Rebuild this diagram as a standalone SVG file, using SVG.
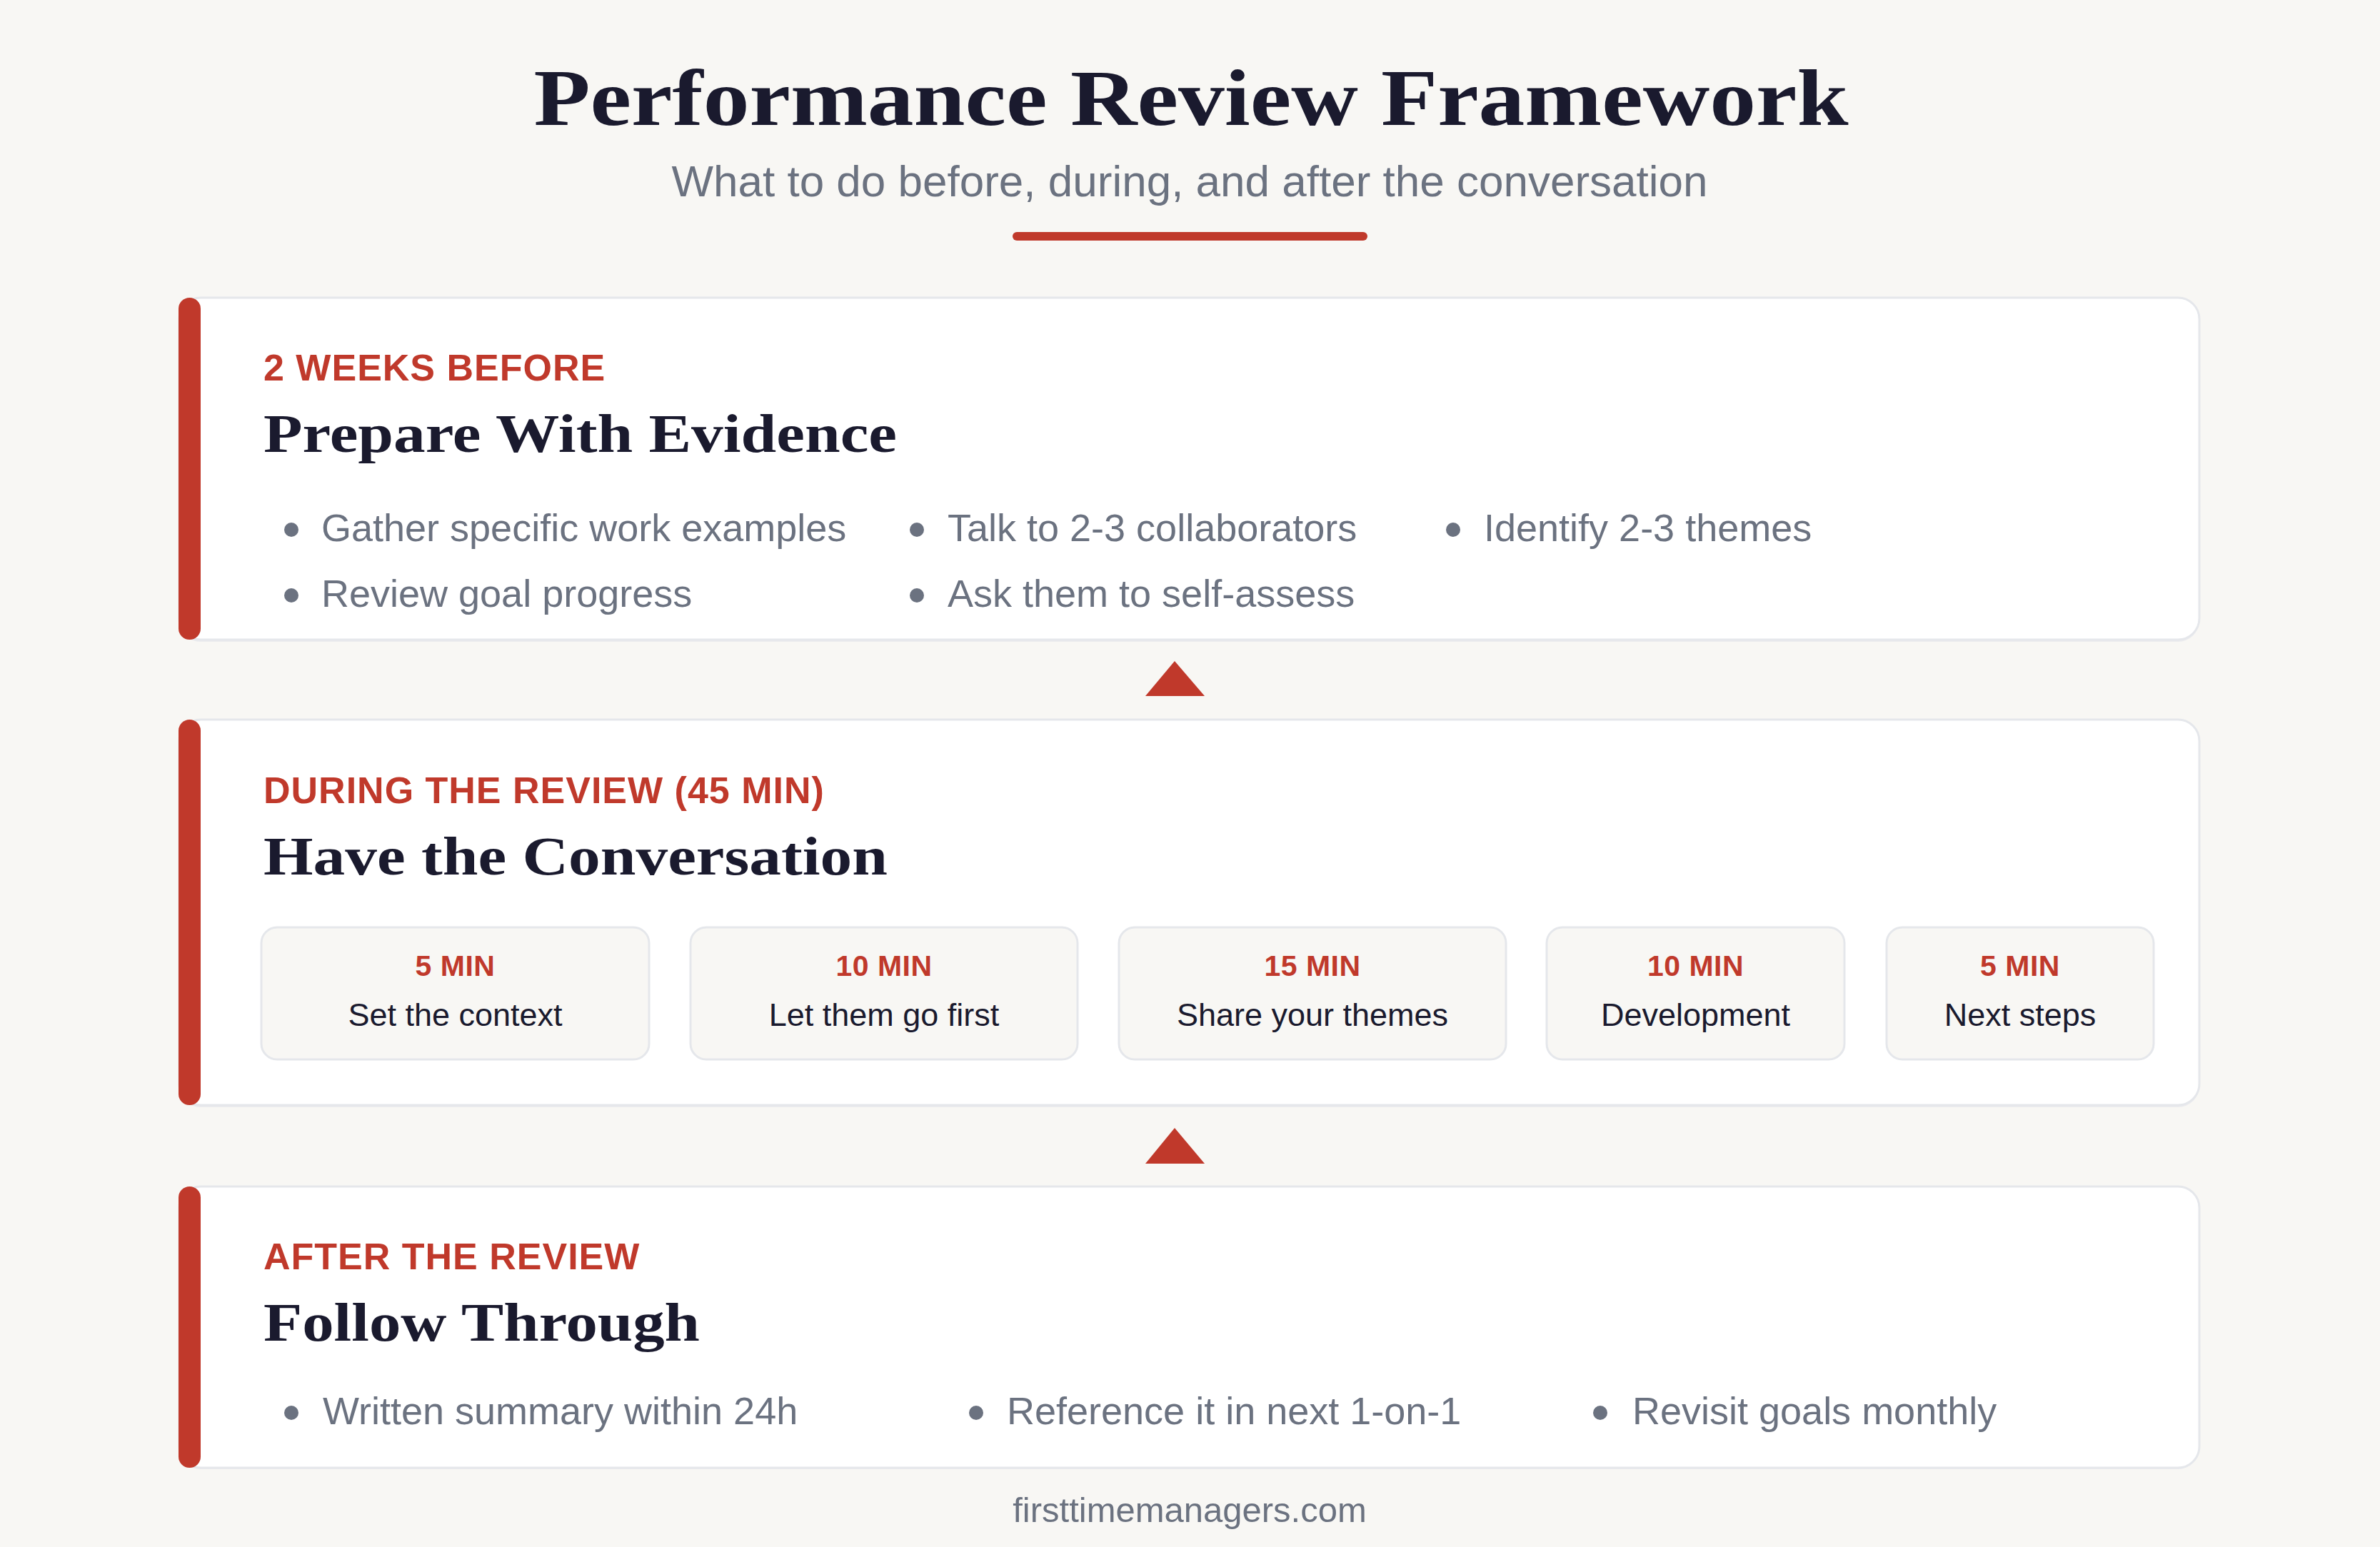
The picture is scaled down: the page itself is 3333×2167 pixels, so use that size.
<svg xmlns="http://www.w3.org/2000/svg" width="3333" height="2167" viewBox="0 0 3333 2167">
<defs>
<style>
.bg{fill:#f8f7f4}
.shadow{fill:#ebebee}
.card{fill:#ffffff;stroke:#e5e7eb;stroke-width:3}
.bar{fill:#c0392b}
.h1{font-family:"Liberation Serif","Times New Roman",serif;font-weight:700;font-size:113px;fill:#1a1a2e;text-anchor:middle}
.sub{font-family:"Liberation Sans",Arial,sans-serif;font-size:62px;fill:#6b7280;text-anchor:middle}
.label{font-family:"Liberation Sans",Arial,sans-serif;font-weight:700;font-size:52px;fill:#c0392b;letter-spacing:1px}
.title{font-family:"Liberation Serif","Times New Roman",serif;font-weight:700;font-size:76px;fill:#1a1a2e}
.item{font-family:"Liberation Sans",Arial,sans-serif;font-size:54px;fill:#6b7280}
.dot{fill:#6b7280}
.step{fill:#f8f7f4;stroke:#e5e7eb;stroke-width:3}
.min{font-family:"Liberation Sans",Arial,sans-serif;font-weight:700;font-size:41px;fill:#c0392b;text-anchor:middle;letter-spacing:0.5px}
.desc{font-family:"Liberation Sans",Arial,sans-serif;font-size:45px;fill:#1a1a2e;text-anchor:middle}
.arrow{fill:#c0392b}
.foot{font-family:"Liberation Sans",Arial,sans-serif;font-size:49px;fill:#6b7280;text-anchor:middle}
</style>
</defs>
<rect class="bg" x="0" y="0" width="3333" height="2167"/>

<g id="header">
<text class="h1" x="1668" y="175" textLength="1841" lengthAdjust="spacingAndGlyphs">Performance Review Framework</text>
<text class="sub" x="1666" y="275">What to do before, during, and after the conversation</text>
<rect x="1418" y="325" width="497" height="12" rx="6" fill="#c0392b"/>
</g>

<g id="card-before">
<rect class="shadow" x="251" y="420" width="2829" height="479" rx="30"/>
<rect class="card" x="251" y="417" width="2829" height="479" rx="30"/>
<rect class="bar" x="250" y="417" width="31" height="479" rx="15.5"/>
<text class="label" x="369" y="533">2 WEEKS BEFORE</text>
<text class="title" x="369" y="633" textLength="887" lengthAdjust="spacingAndGlyphs">Prepare With Evidence</text>
<circle class="dot" cx="408" cy="742" r="10"/>
<text class="item" x="450" y="758">Gather specific work examples</text>
<circle class="dot" cx="408" cy="834" r="10"/>
<text class="item" x="450" y="850">Review goal progress</text>
<circle class="dot" cx="1284" cy="742" r="10"/>
<text class="item" x="1327" y="758">Talk to 2-3 collaborators</text>
<circle class="dot" cx="1284" cy="834" r="10"/>
<text class="item" x="1327" y="850">Ask them to self-assess</text>
<circle class="dot" cx="2035" cy="742" r="10"/>
<text class="item" x="2078" y="758">Identify 2-3 themes</text>
</g>

<g id="card-during">
<rect class="shadow" x="251" y="1011" width="2829" height="540" rx="30"/>
<rect class="card" x="251" y="1008" width="2829" height="540" rx="30"/>
<rect class="bar" x="250" y="1008" width="31" height="540" rx="15.5"/>
<text class="label" x="369" y="1125">DURING THE REVIEW (45 MIN)</text>
<text class="title" x="369" y="1225" textLength="874" lengthAdjust="spacingAndGlyphs">Have the Conversation</text>
<g id="step-1">
<rect class="step" x="366" y="1299" width="543" height="185" rx="22"/>
<text class="min" x="637.5" y="1367">5 MIN</text>
<text class="desc" x="637.5" y="1437">Set the context</text>
</g>
<g id="step-2">
<rect class="step" x="967" y="1299" width="542" height="185" rx="22"/>
<text class="min" x="1238" y="1367">10 MIN</text>
<text class="desc" x="1238" y="1437">Let them go first</text>
</g>
<g id="step-3">
<rect class="step" x="1567" y="1299" width="542" height="185" rx="22"/>
<text class="min" x="1838" y="1367">15 MIN</text>
<text class="desc" x="1838" y="1437">Share your themes</text>
</g>
<g id="step-4">
<rect class="step" x="2166" y="1299" width="417" height="185" rx="22"/>
<text class="min" x="2374.5" y="1367">10 MIN</text>
<text class="desc" x="2374.5" y="1437">Development</text>
</g>
<g id="step-5">
<rect class="step" x="2642" y="1299" width="374" height="185" rx="22"/>
<text class="min" x="2829" y="1367">5 MIN</text>
<text class="desc" x="2829" y="1437">Next steps</text>
</g>
</g>

<g id="card-after">
<rect class="shadow" x="251" y="1665" width="2829" height="393" rx="30"/>
<rect class="card" x="251" y="1662" width="2829" height="394" rx="30"/>
<rect class="bar" x="250" y="1662" width="31" height="394" rx="15.5"/>
<text class="label" x="369" y="1778">AFTER THE REVIEW</text>
<text class="title" x="369" y="1878" textLength="611" lengthAdjust="spacingAndGlyphs">Follow Through</text>
<circle class="dot" cx="408" cy="1979" r="10"/>
<text class="item" x="452" y="1995">Written summary within 24h</text>
<circle class="dot" cx="1367" cy="1979" r="10"/>
<text class="item" x="1410" y="1995">Reference it in next 1-on-1</text>
<circle class="dot" cx="2241" cy="1979" r="10"/>
<text class="item" x="2286" y="1995">Revisit goals monthly</text>
</g>

<g id="connectors">
<polygon class="arrow" points="1645,926 1604,975 1687,975"/>
<polygon class="arrow" points="1645,1580 1604,1630 1687,1630"/>
</g>

<g id="footer">
<text class="foot" x="1666" y="2132">firsttimemanagers.com</text>
</g>
</svg>
